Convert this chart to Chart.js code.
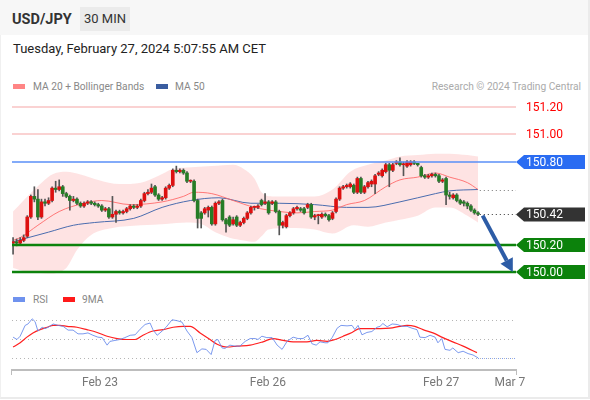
<!DOCTYPE html>
<html lang="en">
<head>
<meta charset="UTF-8">
<title>USD/JPY 30 MIN</title>
<script src="https://cdn.jsdelivr.net/npm/chart.js"></script>
<style>
  body { margin: 0; width: 590px; height: 400px; position: relative; overflow: hidden; background: #fff;
         font-family: Roboto, "Liberation Sans", Arial, sans-serif; }
  .abs { position: absolute; white-space: nowrap; }
  .frame { left: 0; top: 0; width: 587px; height: 397px; border-left: 1px solid #f0f0f0;
           border-right: 2px solid #ebebeb; border-bottom: 2px solid #ebebeb; }
  .band { left: 0; top: 0; width: 588px; height: 35px; background: #f7f7f7; }
  .pair { left: 12px; top: 12px; font-size: 14.5px; line-height: 15px; font-weight: bold; color: #333; }
  .tf { left: 80px; top: 7px; width: 50px; height: 24px; line-height: 24px; text-align: center;
        background: #ebebeb; font-size: 13px; color: #333; }
  .date { left: 13px; top: 42px; font-size: 13px; line-height: 13px; color: #222; }
  .lg { font-size: 10.2px; line-height: 11px; color: #888; }
  .sw { width: 12px; height: 5px; }
  canvas { position: absolute; left: 0; top: 95px; }
</style>
</head>
<body>
<div class="abs frame"></div>
<div class="abs band"></div>
<div class="abs pair">USD/JPY</div>
<div class="abs tf">30 MIN</div>
<div class="abs date">Tuesday, February 27, 2024 5:07:55 AM CET</div>

<div class="abs sw" style="left:13px;top:84px;background:#ff8585"></div>
<div class="abs lg" style="left:33px;top:81px">MA 20 + Bollinger Bands</div>
<div class="abs sw" style="left:156px;top:84px;background:#3a5da0"></div>
<div class="abs lg" style="left:175px;top:81px">MA 50</div>
<div class="abs lg" style="right:9px;top:81px;color:#aaa">Research © 2024 Trading Central</div>

<div class="abs sw" style="left:13px;top:297px;background:#6f92ee"></div>
<div class="abs lg" style="left:33px;top:294px">RSI</div>
<div class="abs sw" style="left:63px;top:297px;background:#ff1a1a"></div>
<div class="abs lg" style="left:82px;top:294px">9MA</div>

<canvas id="chart" width="590" height="305"></canvas>

<script>
// 30 min candles, index 0 = Feb 22 late morning, last = Feb 27 05:00
const open = [150.21,150.22,150.21,150.23,150.26,150.40,150.55,150.53,150.40,150.51,
  150.50,150.52,150.61,150.60,150.62,150.57,150.55,150.52,150.53,150.50,
  150.48,150.50,150.51,150.50,150.49,150.48,150.45,150.46,150.40,150.42,
  150.44,150.43,150.44,150.46,150.48,150.47,150.48,150.52,150.57,150.58,
  150.62,150.56,150.53,150.54,150.61,150.63,150.74,150.73,150.74,150.72,
  150.66,150.66,150.52,150.43,150.43,150.45,150.47,150.35,150.50,150.52,
  150.38,150.40,150.35,150.40,150.34,150.36,150.39,150.43,150.47,150.47,
  150.52,150.50,150.51,150.50,150.51,150.44,150.34,150.33,150.41,150.43,
  150.46,150.46,150.46,150.47,150.49,150.40,150.41,150.40,150.42,150.41,
  150.39,150.44,150.53,150.61,150.62,150.62,150.63,150.58,150.68,150.58,
  150.62,150.64,150.64,150.71,150.70,150.73,150.78,150.74,150.79,150.80,
  150.78,150.77,150.78,150.80,150.79,150.76,150.70,150.69,150.70,150.71,
  150.70,150.66,150.68,150.56,150.54,150.56,150.52,150.51,150.50,150.48,
  150.45,150.43];
const high = [150.25,150.24,150.25,150.27,150.41,150.56,150.62,150.60,150.53,150.53,
  150.54,150.62,150.66,150.67,150.63,150.58,150.56,150.55,150.54,150.51,
  150.51,150.52,150.52,150.51,150.50,150.49,150.47,150.47,150.55,150.45,
  150.45,150.45,150.47,150.49,150.49,150.49,150.53,150.58,150.60,150.64,
  150.63,150.57,150.55,150.62,150.64,150.75,150.77,150.75,150.75,150.73,
  150.67,150.67,150.53,150.44,150.47,150.48,150.48,150.51,150.52,150.53,
  150.39,150.41,150.40,150.41,150.37,150.40,150.44,150.48,150.48,150.49,
  150.53,150.57,150.52,150.52,150.52,150.45,150.37,150.42,150.44,150.47,
  150.48,150.47,150.47,150.50,150.50,150.42,150.42,150.43,150.43,150.42,
  150.44,150.54,150.62,150.63,150.64,150.65,150.64,150.69,150.69,150.63,
  150.66,150.67,150.71,150.73,150.75,150.79,150.79,150.79,150.81,150.83,
  150.80,150.81,150.81,150.81,150.79,150.77,150.71,150.71,150.72,150.72,
  150.71,150.68,150.69,150.58,150.57,150.57,150.53,150.52,150.51,150.49,
  150.46,150.44];
const low = [150.13,150.19,150.20,150.22,150.25,150.39,150.51,150.38,150.39,150.48,
  150.49,150.51,150.58,150.59,150.55,150.54,150.45,150.51,150.49,150.47,
  150.47,150.49,150.49,150.48,150.47,150.44,150.44,150.39,150.39,150.36,
  150.42,150.42,150.43,150.45,150.46,150.46,150.47,150.51,150.56,150.57,
  150.55,150.52,150.52,150.53,150.60,150.62,150.72,150.72,150.71,150.65,
  150.65,150.51,150.32,150.32,150.42,150.40,150.34,150.34,150.49,150.37,
  150.29,150.33,150.34,150.33,150.33,150.35,150.38,150.42,150.45,150.46,
  150.48,150.49,150.42,150.49,150.43,150.27,150.32,150.32,150.40,150.42,
  150.45,150.44,150.42,150.46,150.39,150.38,150.35,150.39,150.40,150.37,
  150.38,150.43,150.52,150.60,150.61,150.61,150.57,150.57,150.57,150.57,
  150.61,150.62,150.57,150.70,150.69,150.72,150.62,150.73,150.78,150.77,
  150.70,150.76,150.77,150.78,150.77,150.69,150.68,150.68,150.69,150.69,
  150.65,150.65,150.49,150.53,150.53,150.51,150.49,150.48,150.46,150.44,
  150.42,150.41];
const close = [150.22,150.21,150.23,150.25,150.40,150.55,150.53,150.40,150.51,150.50,
  150.52,150.61,150.60,150.62,150.57,150.55,150.52,150.53,150.50,150.48,
  150.50,150.51,150.50,150.49,150.48,150.45,150.46,150.40,150.42,150.44,
  150.43,150.44,150.46,150.48,150.47,150.48,150.52,150.57,150.58,150.61,
  150.56,150.53,150.54,150.61,150.63,150.74,150.73,150.74,150.72,150.66,
  150.66,150.52,150.39,150.39,150.46,150.47,150.35,150.50,150.51,150.38,
  150.35,150.34,150.38,150.34,150.36,150.39,150.43,150.47,150.47,150.48,
  150.49,150.51,150.43,150.51,150.44,150.34,150.36,150.41,150.43,150.46,
  150.47,150.45,150.43,150.49,150.40,150.41,150.41,150.42,150.41,150.38,
  150.43,150.53,150.61,150.62,150.63,150.64,150.58,150.68,150.58,150.62,
  150.65,150.66,150.70,150.72,150.74,150.78,150.74,150.78,150.80,150.78,
  150.78,150.80,150.80,150.79,150.78,150.70,150.69,150.70,150.71,150.70,
  150.66,150.67,150.56,150.55,150.56,150.52,150.50,150.50,150.48,150.45,
  150.43,150.42];

// [candle index, value]
const ma20 = [[0,150.23],[2,150.25],[7,150.34],[13,150.44],[20,150.50],[25,150.52],[33,150.49],[42,150.51],
  [48,150.55],[51,150.58],[56,150.57],[62,150.52],[68,150.47],[75,150.44],[80,150.43],[85,150.44],
  [90,150.45],[94,150.49],[99,150.52],[105,150.62],[109,150.67],[114,150.69],[119,150.72],[123,150.69],
  [128,150.65],[131,150.60]];
const ma50 = [[0,150.22],[10,150.29],[17,150.34],[23,150.36],[34,150.39],[42,150.47],[50,150.52],
  [58,150.54],[67,150.50],[75,150.50],[85,150.49],[94,150.47],[100,150.47],[109,150.51],[119,150.57],
  [123,150.59],[131,150.60]];
const bbUpper = [[0,150.44],[6,150.60],[11,150.71],[15,150.73],[19,150.71],[24,150.67],[30,150.64],
  [36,150.65],[41,150.70],[45,150.75],[49,150.76],[56,150.77],[62,150.78],[65,150.75],[68,150.68],
  [70,150.58],[73,150.55],[85,150.55],[90,150.60],[95,150.73],[100,150.78],[105,150.81],[109,150.84],
  [114,150.85],[119,150.86],[123,150.86],[128,150.85],[131,150.84]];
const bbLower = [[0,150.03],[4,150.00],[10,149.99],[15,150.03],[18,150.16],[22,150.27],[28,150.32],
  [36,150.34],[43,150.35],[49,150.36],[53,150.35],[57,150.29],[61,150.25],[65,150.23],[68,150.22],
  [70,150.26],[72,150.31],[78,150.32],[85,150.31],[90,150.28],[96,150.34],[100,150.33],[105,150.36],
  [109,150.38],[114,150.41],[119,150.47],[123,150.47],[128,150.41],[131,150.36]];
const rsi = [[0,52.5],[1.1,50],[2,53.5],[3.4,65],[4.2,66.5],[5.4,72],[6.2,69],[7,59],[8.2,63],[9,61.5],
  [9.9,63],[11.3,66.5],[12.7,65],[14.1,64],[15.5,60],[16.9,60],[18.3,56],[19.7,56],[21.1,57],[22.5,54.5],
  [23.9,52.5],[25.1,52],[26.5,44],[27.3,48],[28.7,49],[30.1,50],[31.5,52],[33,54.5],[34.4,55],[35.8,61],
  [37.2,66],[38.6,67.5],[39.4,60.5],[40.6,54.5],[42,59],[43.1,63],[44.8,71],[46.2,70],[47.6,68.5],[49,59],
  [50.4,52],[51.8,36],[53.2,40],[54.4,39.5],[55.8,34],[56.9,49],[57.7,50],[58.9,41],[59.7,40.5],[61.1,44],
  [62.5,43],[63.9,43],[65.4,48],[66.8,51],[68.2,51],[69,50],[70.1,53.5],[71.5,52],[73,52],[74.4,44],
  [75.8,39.5],[77.2,48],[78.9,52.5],[80.3,51],[81.7,51],[83.1,54.5],[84.2,45.5],[85.4,44],[86.5,47.5],
  [87.9,46.5],[88.7,46.5],[89.9,52],[91.3,62],[92.4,65],[94.1,64.5],[95.5,65],[96.3,60.5],[97.2,65],
  [98.3,55],[99.7,57.5],[101.1,58.5],[102.5,63],[103.4,64],[104.2,67],[105.4,63.5],[106.8,66.5],
  [108.2,66],[109.6,64],[111,64],[112.4,62],[113.8,60.5],[114.6,52.5],[116.1,52],[117.5,54.5],
  [118.9,52.5],[119.7,46.5],[120.8,51],[121.7,39.5],[123.1,38.5],[123.9,41],[125.4,36],[126.8,37.5],
  [128.2,35],[129.6,33.5],[131,30.5]];
const rsiMa = [[0,42],[2,46.5],[3.9,52.5],[5.6,57],[7.6,60.5],[9.6,63],[11.3,65],[13.2,65],[15.2,64],
  [18,63],[20.8,60.5],[23.7,57.5],[26.5,53.5],[29.3,51],[32.1,50],[34.4,50],[36.6,54.5],[39.4,59],
  [42.3,60.5],[45.1,63],[47.9,64],[49.9,64],[52.7,57],[55.5,50],[57.5,45],[60.3,42],[63.1,43],[66.8,44],
  [70.4,47.5],[73.2,51],[76.1,49],[78.9,47.5],[82.8,47.5],[85.6,49],[88.5,48],[90.7,50],[93,53.5],
  [95.5,57.5],[97.7,61.5],[100.6,61.5],[103.4,61.5],[106.2,62],[109,64],[111,65],[113.2,64],[115.5,60.5],
  [118.3,57],[121.1,52],[123.9,47.5],[126.8,43],[130.7,36]];

const tickPos = [24.5, 71.8, 120.6, 140];
const tickText = ['Feb 23', 'Feb 26', 'Feb 27', 'Mar 7'];
const rsiTicks = [30, 50, 70];

const levels = [151.2, 151.0, 150.8, 150.2, 150.0];
const arrowFrom = [132.3, 150.41];
const arrowTo = [140.8, 150.0];

const FONT = 'Roboto, "Liberation Sans", Arial, sans-serif';
const levelStyles = [
  {line: '#f5a5a5', width: 1, text: '#ff0000'},
  {line: '#f5a5a5', width: 1, text: '#ff0000'},
  {line: '#5a8ff7', width: 1.5, box: '#2a6cf2'},
  {line: '#0c820c', width: 2.5, box: '#0c820c'},
  {line: '#0c820c', width: 2.5, box: '#0c820c'}
];

const pts = arr => arr.map(p => ({x: p[0], y: p[1]}));
const candleColor = ctx => {
  const i = ctx.dataIndex;
  if (i === undefined) return '#999';
  return close[i] >= open[i] ? '#dd1010' : '#267d26';
};

function tag(ctx, left, py, color, text) {
  ctx.fillStyle = color;
  ctx.beginPath();
  ctx.moveTo(left, py);
  ctx.lineTo(left + 8, py - 7);
  ctx.lineTo(left + 69, py - 7);
  ctx.lineTo(left + 69, py + 7);
  ctx.lineTo(left + 8, py + 7);
  ctx.closePath();
  ctx.fill();
  ctx.fillStyle = '#fff';
  ctx.fillText(text, left + 10, py + 0.5);
}

function dotted(ctx, x0, x1, py, color) {
  ctx.save();
  ctx.strokeStyle = color;
  ctx.lineWidth = 1;
  ctx.setLineDash([1, 3]);
  ctx.beginPath();
  ctx.moveTo(x0, Math.round(py) + 0.5);
  ctx.lineTo(x1, Math.round(py) + 0.5);
  ctx.stroke();
  ctx.restore();
}

// levels, tags, tails and the forecast arrow
const overlay = {
  id: 'overlay',
  afterDatasetsDraw(chart) {
    const {ctx, chartArea: a} = chart;
    const x = chart.scales.x, y = chart.scales.y, r = chart.scales.rsi;
    const last = close.length - 1;
    ctx.save();
    ctx.font = '12px ' + FONT;
    ctx.textBaseline = 'middle';

    const tailX = x.getPixelForValue(last + 0.5);
    dotted(ctx, tailX, a.right, y.getPixelForValue(ma50[ma50.length - 1][1]), '#777');
    dotted(ctx, tailX, a.right, y.getPixelForValue(close[last]), '#333');
    const lr = rsi[rsi.length - 1];
    dotted(ctx, x.getPixelForValue(lr[0]), a.right, r.getPixelForValue(lr[1]), '#7d9df2');

    levels.forEach((v, k) => {
      const s = levelStyles[k];
      const py = Math.round(y.getPixelForValue(v));
      ctx.strokeStyle = s.line;
      ctx.lineWidth = s.width;
      ctx.beginPath();
      ctx.moveTo(a.left, py);
      ctx.lineTo(a.right, py);
      ctx.stroke();
      if (s.box) {
        tag(ctx, a.right, py, s.box, v.toFixed(2));
      } else {
        ctx.fillStyle = s.text;
        ctx.fillText(v.toFixed(2), a.right + 10, py + 0.5);
      }
    });
    tag(ctx, a.right, Math.round(y.getPixelForValue(close[last])) + 0.5, '#333', close[last].toFixed(2));

    const fx = x.getPixelForValue(arrowFrom[0]), fy = y.getPixelForValue(arrowFrom[1]);
    const tx = x.getPixelForValue(arrowTo[0]), ty = y.getPixelForValue(arrowTo[1]);
    const ang = Math.atan2(ty - fy, tx - fx), head = 13, half = 7;
    const bx = tx - head * Math.cos(ang), by = ty - head * Math.sin(ang);
    ctx.strokeStyle = ctx.fillStyle = '#2d5ca6';
    ctx.lineWidth = 4;
    ctx.beginPath();
    ctx.moveTo(fx, fy);
    ctx.lineTo(bx, by);
    ctx.stroke();
    ctx.beginPath();
    ctx.moveTo(tx, ty);
    ctx.lineTo(bx + half * Math.sin(ang), by - half * Math.cos(ang));
    ctx.lineTo(bx - half * Math.sin(ang), by + half * Math.cos(ang));
    ctx.closePath();
    ctx.fill();

    ctx.strokeStyle = '#bdbdbd';
    ctx.lineWidth = 1;
    [a.left - 0.5, a.right + 0.5].forEach(px => {
      ctx.beginPath();
      ctx.moveTo(px, a.bottom);
      ctx.lineTo(px, a.bottom + 5);
      ctx.stroke();
    });
    ctx.restore();
  }
};

const idx = close.map((c, i) => i);

new Chart(document.getElementById('chart'), {
  type: 'bar',
  data: {
    datasets: [
      {type: 'line', data: pts(bbUpper), borderWidth: 0, pointRadius: 0, fill: false,
       tension: 0.4, cubicInterpolationMode: 'monotone', order: 10},
      {type: 'line', data: pts(bbLower), borderWidth: 0, pointRadius: 0, fill: '-1',
       backgroundColor: 'rgba(245,60,60,0.14)', tension: 0.4, cubicInterpolationMode: 'monotone', order: 10},
      {type: 'line', data: pts(ma20), borderColor: 'rgba(255,100,100,0.85)', borderWidth: 1, pointRadius: 0,
       cubicInterpolationMode: 'monotone', order: 5},
      {type: 'line', data: pts(ma50), borderColor: '#4a6cae', borderWidth: 1, pointRadius: 0,
       cubicInterpolationMode: 'monotone', order: 5},
      {data: idx.map(i => ({x: i, y: [low[i], high[i]]})), backgroundColor: '#555',
       barThickness: 1, grouped: false, order: 2},
      {data: idx.map(i => ({x: i, y: [open[i], close[i]]})), backgroundColor: candleColor,
       barThickness: 3, minBarLength: 1, grouped: false, order: 1},
      {type: 'line', yAxisID: 'rsi', data: pts(rsi), borderColor: 'rgba(100,135,235,0.85)', borderWidth: 1,
       pointRadius: 0, order: 0},
      {type: 'line', yAxisID: 'rsi', data: pts(rsiMa), borderColor: '#ff2020', borderWidth: 1.2,
       pointRadius: 0, cubicInterpolationMode: 'monotone', order: 0}
    ]
  },
  options: {
    responsive: false,
    animation: false,
    events: [],
    layout: {padding: {left: 12, right: 74, top: 5, bottom: 4}, autoPadding: false},
    plugins: {legend: {display: false}, tooltip: {enabled: false}},
    scales: {
      x: {
        type: 'linear', min: -0.3, max: 141.7, offset: false,
        grid: {display: false, drawTicks: false},
        border: {display: true, color: '#bdbdbd', width: 2},
        afterBuildTicks: s => { s.ticks = tickPos.map(v => ({value: v})); },
        afterFit: s => { s.height = 26; s.paddingLeft = 0; s.paddingRight = 0; },
        ticks: {autoSkip: false, maxRotation: 0, padding: 6, color: '#777',
                font: {size: 12, family: FONT}, callback: (v, i) => tickText[i]}
      },
      y: {type: 'linear', display: false, min: 149.2873, max: 151.2509},
      rsi: {
        type: 'linear', position: 'right', min: 17.55, max: 304.8,
        grid: {color: '#b5b5b5', drawTicks: false},
        border: {display: false, dash: [1, 3]},
        afterBuildTicks: s => { s.ticks = rsiTicks.map(v => ({value: v})); },
        afterFit: s => { s.width = 0; s.paddingTop = 0; s.paddingBottom = 0; },
        ticks: {padding: 9, color: '#777', font: {size: 12, family: FONT}}
      }
    }
  },
  plugins: [overlay]
});
</script>
</body>
</html>
